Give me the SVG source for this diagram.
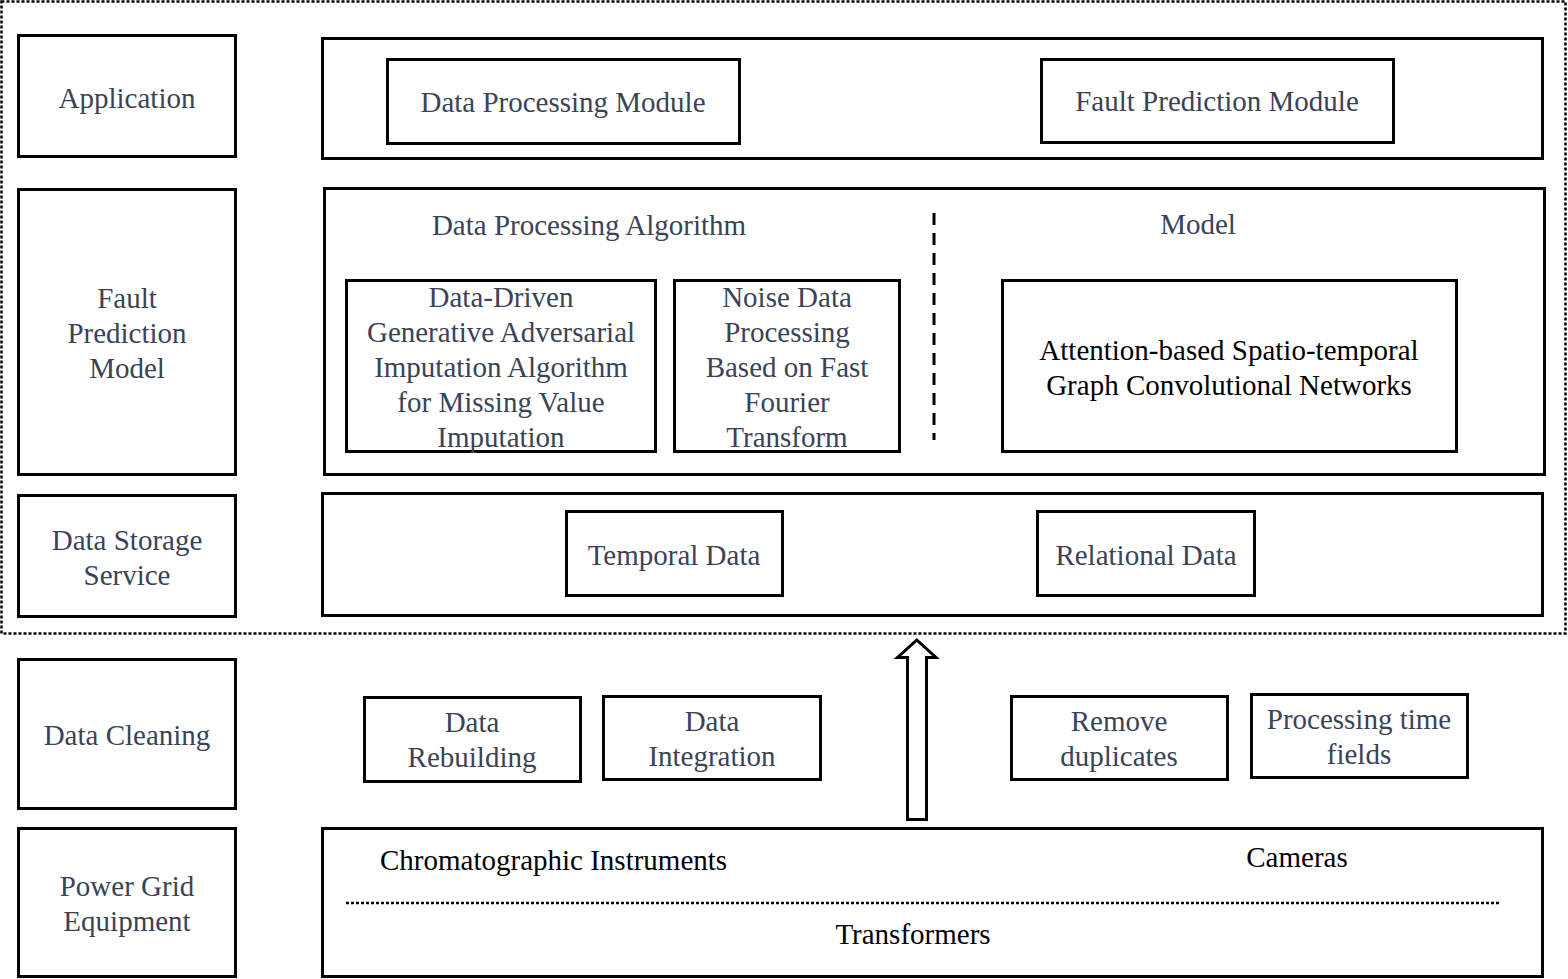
<svg xmlns="http://www.w3.org/2000/svg" width="1568" height="979" viewBox="0 0 1568 979">
<style>
.box{fill:#fff;stroke:#000;stroke-width:3}
.t{font-family:"Liberation Serif","Times New Roman",serif;font-size:29px;fill:#3b4356;text-anchor:middle}
.k{fill:#000}
</style>
<rect x="0" y="0" width="1568" height="979" fill="#fff"/>
<rect x="1.5" y="1.5" width="1564" height="632" fill="none" stroke="#000" stroke-width="2.5" stroke-dasharray="3 2"/>

<g id="app-label"><rect class="box" x="18.5" y="35.5" width="217" height="121"/><text class="t" x="127" y="108">Application</text></g>
<g id="fpm-label"><rect class="box" x="18.5" y="189.5" width="217" height="285"/><text class="t" x="127" y="308">Fault</text><text class="t" x="127" y="343">Prediction</text><text class="t" x="127" y="378">Model</text></g>
<g id="dss-label"><rect class="box" x="18.5" y="495.5" width="217" height="121"/><text class="t" x="127" y="550">Data Storage</text><text class="t" x="127" y="585">Service</text></g>
<g id="dc-label"><rect class="box" x="18.5" y="659.5" width="217" height="149"/><text class="t" x="127" y="745">Data Cleaning</text></g>
<g id="pge-label"><rect class="box" x="18.5" y="828.5" width="217" height="148"/><text class="t" x="127" y="896">Power Grid</text><text class="t" x="127" y="931">Equipment</text></g>

<g id="app-layer"><rect class="box" x="322.5" y="38.5" width="1220" height="120"/></g>
<g id="dpm"><rect class="box" x="387.5" y="59.5" width="352" height="84"/><text class="t" x="563" y="112">Data Processing Module</text></g>
<g id="fpmod"><rect class="box" x="1041.5" y="59.5" width="352" height="83"/><text class="t" x="1217" y="111">Fault Prediction Module</text></g>

<g id="fpm-layer"><rect class="box" x="324.5" y="188.5" width="1220" height="286"/><text class="t" x="589" y="235">Data Processing Algorithm</text><text class="t" x="1198" y="234">Model</text></g>
<g id="gan"><rect class="box" x="346.5" y="280.5" width="309" height="171"/><text class="t" x="501" y="307">Data-Driven</text><text class="t" x="501" y="342">Generative Adversarial</text><text class="t" x="501" y="377">Imputation Algorithm</text><text class="t" x="501" y="412">for Missing Value</text><text class="t" x="501" y="447">Imputation</text></g>
<g id="fft"><rect class="box" x="674.5" y="280.5" width="225" height="171"/><text class="t" x="787" y="307">Noise Data</text><text class="t" x="787" y="342">Processing</text><text class="t" x="787" y="377">Based on Fast</text><text class="t" x="787" y="412">Fourier</text><text class="t" x="787" y="447">Transform</text></g>
<g id="astgcn"><rect class="box" x="1002.5" y="280.5" width="454" height="171"/><text class="t k" x="1229" y="360">Attention-based Spatio-temporal</text><text class="t k" x="1229" y="395">Graph Convolutional Networks</text></g>

<g id="dss-layer"><rect class="box" x="322.5" y="493.5" width="1220" height="122"/></g>
<g id="temporal"><rect class="box" x="566.5" y="511.5" width="216" height="84"/><text class="t" x="674" y="565">Temporal Data</text></g>
<g id="relational"><rect class="box" x="1037.5" y="511.5" width="217" height="84"/><text class="t" x="1146" y="565">Relational Data</text></g>

<g id="rebuild"><rect class="box" x="364.5" y="697.5" width="216" height="84"/><text class="t" x="472" y="732">Data</text><text class="t" x="472" y="767">Rebuilding</text></g>
<g id="integ"><rect class="box" x="603.5" y="696.5" width="217" height="83"/><text class="t" x="712" y="731">Data</text><text class="t" x="712" y="766">Integration</text></g>
<g id="dup"><rect class="box" x="1011.5" y="696.5" width="216" height="83"/><text class="t" x="1119" y="731">Remove</text><text class="t" x="1119" y="766">duplicates</text></g>
<g id="timef"><rect class="box" x="1251.5" y="694.5" width="216" height="83"/><text class="t" x="1359" y="729">Processing time</text><text class="t" x="1359" y="764">fields</text></g>

<g id="pge-layer"><rect class="box" x="322.5" y="828.5" width="1220" height="148"/><text class="t k" x="380" y="870" style="text-anchor:start">Chromatographic Instruments</text><text class="t k" x="1297" y="867">Cameras</text><text class="t k" x="913" y="944">Transformers</text></g>

<g id="connectors">
<line x1="934" y1="213" x2="934" y2="440" stroke="#000" stroke-width="3" stroke-dasharray="12 8"/>
<line x1="346" y1="903" x2="1500" y2="903" stroke="#000" stroke-width="2.5" stroke-dasharray="3 2"/>
<polygon points="907.5,819.5 926.5,819.5 926.5,657.5 936,657.5 916.8,640 897.5,657.5 907.5,657.5" fill="#fff" stroke="#000" stroke-width="3"/>
</g>
</svg>
